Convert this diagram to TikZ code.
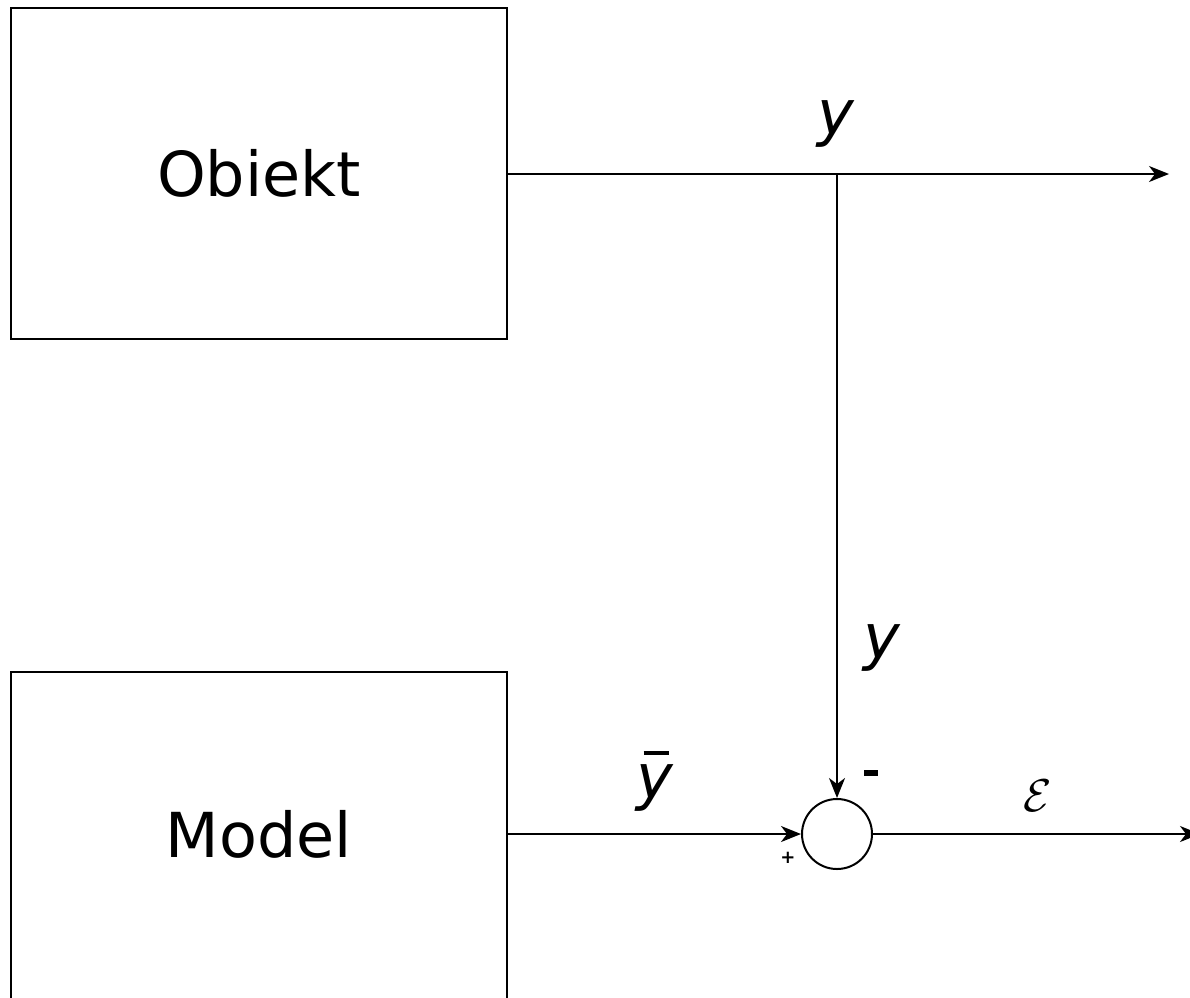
\documentclass[tikz,border=0pt]{standalone}
\usepackage{fontspec}
\setmainfont{DejaVu Sans}
\usetikzlibrary{arrows.meta}
\begin{document}
\begin{tikzpicture}[x=1pt,y=-1pt,
  blk/.style={draw,line width=2pt,minimum width=496pt,minimum height=331pt,inner sep=0pt,font=\fontsize{62}{70}\selectfont},
  conn/.style={line width=2pt,-{Stealth[length=20pt,width=16pt,inset=6pt]}},
  lbl/.style={font=\fontsize{62}{70}\selectfont\itshape,inner sep=0pt}]
\useasboundingbox (0,0) rectangle (1190,997);
\clip (0,0) rectangle (1190,997);
\node[blk] (obj) at (259,173.5) {Obiekt};
\node[draw,line width=2pt,minimum width=496pt,minimum height=400pt,inner sep=0pt,anchor=north] (mod) at (259,671) {};
\node[font=\fontsize{62}{70}\selectfont] (modt) at (259,834) {Model};
\node[circle,draw,line width=2pt,minimum size=70pt,inner sep=0pt] (sum) at (837,834) {};
\coordinate (tj) at (837,174);
\coordinate (out1) at (1169,174);
\coordinate (out2) at (1200,834);
\draw[conn] (obj.east |- tj) -- (out1);
\draw[conn] (tj) -- (sum.north);
\draw[conn] (mod.east |- sum) -- (sum.west);
\draw[conn] (sum.east) -- (out2);
\node[lbl] (y1) at (836,124) {y};
\node[lbl] (y2) at (882,648) {y};
\node[lbl] (yb) at (655,788) {y};
\node[inner sep=0pt] (ybar) at (656,753) {\rule{25pt}{3.5pt}};
\node[inner sep=0pt] (minus) at (871,773) {\rule{14pt}{6pt}};
\node[font=\fontsize{18}{20}\selectfont\bfseries,inner sep=0pt] (plus) at (788,858) {+};
\node[scale=4.6,inner sep=0pt] (eps) at (1038,796) {$\mathcal{E}$};
\end{tikzpicture}
\end{document}
